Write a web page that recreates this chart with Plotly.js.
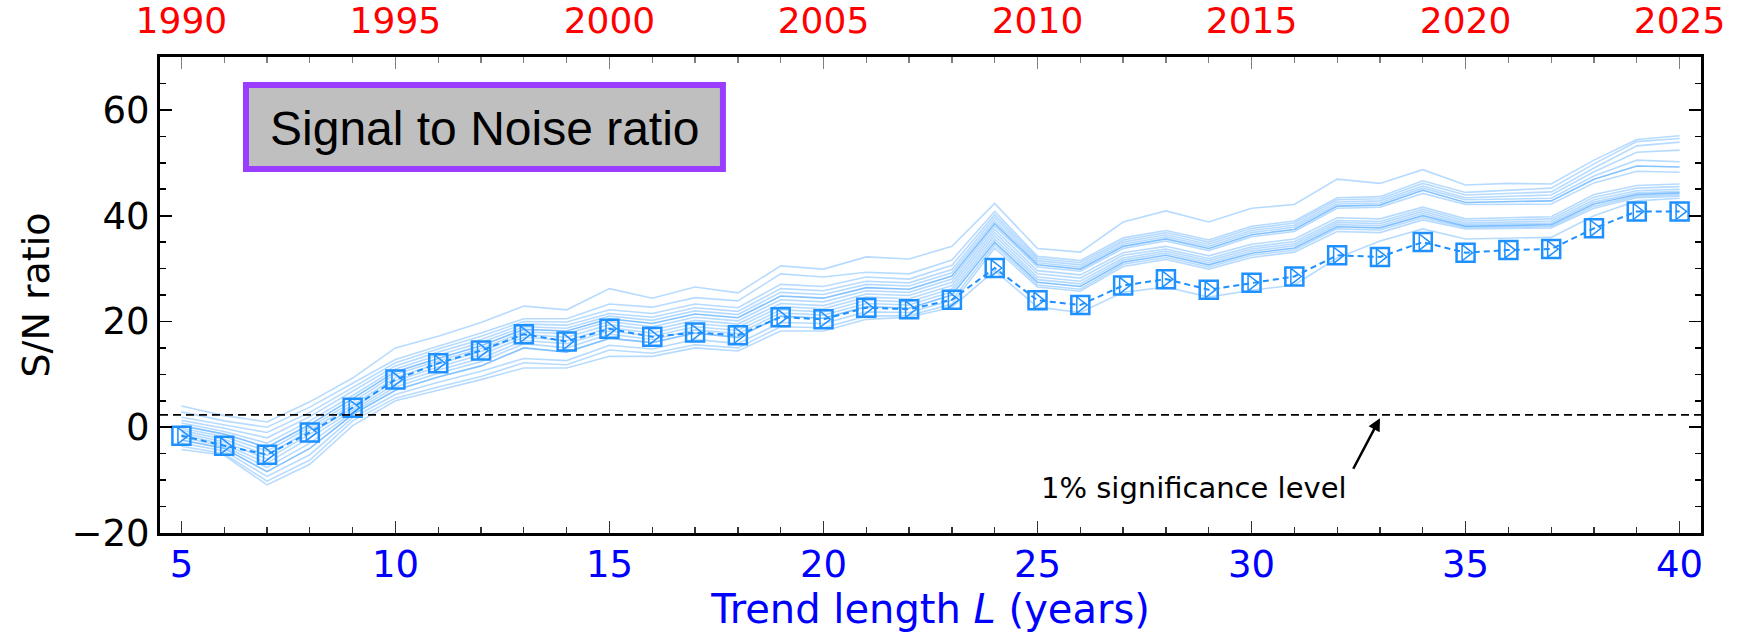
<!DOCTYPE html>
<html>
<head>
<meta charset="utf-8">
<script src="https://cdn.plot.ly/plotly-3.0.1.min.js"></script>
<style>html,body{margin:0;padding:0;background:#fff;}#chart{width:1740px;height:634px;}</style>
</head>
<body>
<div id="chart"></div>
<script>
// Trend lengths (years)
const trendLength = [5,6,7,8,9,10,11,12,13,14,15,16,17,18,19,20,21,22,23,24,25,26,27,28,29,30,31,32,33,34,35,36,37,38,39,40];
// Start years for top axis ticks
const yearTicks = [1990,1995,2000,2005,2010,2015,2020,2025];
const bottomTicks = [5,10,15,20,25,30,35,40];
const sigLevel = 2.33;

// Main S/N series (squares, dashed)
const snMain = [-1.6,-3.5,-5.2,-1.0,3.7,9.0,12.1,14.5,17.6,16.2,18.6,17.1,17.9,17.4,20.8,20.4,22.6,22.3,24.1,30.1,24.0,23.1,26.8,28.0,26.0,27.3,28.5,32.5,32.2,35.0,33.0,33.5,33.7,37.6,40.8,40.8];

// Ensemble members (thin light lines)
const m01 = [4.0,2.2,1.0,4.8,9.3,15.0,17.2,19.8,22.9,22.2,26.2,24.4,26.5,25.4,30.5,29.9,32.2,31.8,34.2,42.3,33.8,33.1,38.8,40.9,38.8,41.4,42.1,46.9,46.1,48.7,45.8,46.1,46.0,50.5,54.4,55.1];
const m02 = [2.9,1.2,0.0,3.8,8.3,12.8,15.3,17.8,20.5,20.5,23.3,22.7,24.5,23.9,29.0,28.4,29.3,29.0,31.6,40.8,32.3,31.5,35.8,37.2,35.4,38.0,39.0,43.4,43.6,46.6,44.4,44.8,45.2,49.8,54.0,54.6];
const m03 = [1.9,0.5,-1.0,2.8,7.5,12.2,14.8,17.2,20.0,19.9,22.2,21.5,23.3,22.6,27.0,26.6,28.4,28.0,30.6,40.2,31.9,31.1,35.4,36.8,35.0,37.6,38.6,43.0,43.2,46.1,43.9,44.2,44.5,49.0,53.2,53.9];
const m04 = [1.3,-0.2,-2.0,2.0,6.8,11.6,14.2,16.6,19.5,19.3,21.5,20.8,22.6,21.9,26.2,25.8,27.6,27.3,29.8,39.6,31.5,30.7,35.0,36.4,34.6,37.2,38.2,42.6,42.8,45.6,43.4,43.7,43.9,48.3,52.0,52.4];
const m05 = [0.8,-0.8,-3.0,1.2,6.0,11.0,13.6,16.0,19.0,18.7,21.0,20.2,22.0,21.3,25.5,25.1,27.0,26.7,29.2,39.0,31.1,30.3,34.6,36.0,34.2,36.8,37.8,42.2,42.4,45.2,43.0,43.2,43.3,47.5,50.5,50.2];
const m06 = [0.3,-1.3,-3.8,0.5,5.4,10.5,13.0,15.4,18.5,18.2,20.5,19.6,21.4,20.7,24.8,24.4,26.4,26.1,28.6,38.5,30.7,29.9,34.2,35.6,33.8,36.4,37.4,41.8,42.0,44.8,42.5,42.7,42.8,46.9,49.4,49.2];
const m07 = [-0.2,-1.8,-4.5,0.0,4.8,10.0,12.5,14.9,18.0,17.7,20.0,19.0,20.8,20.1,24.1,23.7,25.8,25.5,28.0,38.0,30.3,29.5,33.8,35.2,33.4,36.0,37.0,41.4,41.6,44.2,42.1,42.2,42.2,46.2,48.4,48.2];
const m08 = [-0.6,-2.3,-5.3,-0.6,4.2,9.4,12.0,14.3,17.5,17.0,19.4,18.4,20.2,19.5,23.4,23.0,25.2,24.9,27.4,37.4,29.6,28.8,33.0,34.2,32.4,34.6,35.6,39.6,39.4,41.6,39.4,39.6,39.8,44.0,45.7,46.0];
const m09 = [-1.0,-2.8,-6.0,-1.3,3.6,8.8,11.4,13.7,17.0,16.4,18.8,17.8,19.6,18.9,22.8,22.4,24.6,24.3,26.8,36.8,29.0,28.2,32.5,33.7,31.9,34.1,35.1,39.1,38.9,41.2,39.0,39.2,39.4,43.5,45.2,45.5];
const m10 = [-1.4,-3.2,-6.8,-2.0,3.2,8.2,10.8,13.0,16.4,15.8,18.2,17.2,19.0,18.3,22.2,21.8,24.0,23.7,26.2,36.2,28.4,27.6,32.0,33.3,31.5,33.7,34.7,38.7,38.5,40.8,38.6,38.8,39.0,43.0,44.7,45.0];
const m11 = [-1.9,-3.6,-7.6,-3.0,2.8,7.6,10.2,12.4,15.8,15.0,17.6,16.6,18.4,17.7,21.6,21.2,23.4,23.1,25.6,35.6,27.9,27.1,31.6,32.9,31.1,33.3,34.3,38.3,38.1,40.4,38.3,38.5,38.6,42.6,44.3,44.6];
const m12 = [-2.4,-4.0,-8.4,-4.0,2.4,7.0,9.5,11.6,15.0,14.2,16.8,16.0,17.8,17.0,21.0,20.6,22.8,22.5,25.0,35.0,27.4,26.6,31.2,32.5,30.7,32.9,33.9,37.9,37.7,40.0,38.0,38.2,38.3,42.2,44.0,44.3];
const m13 = [-3.0,-4.5,-9.3,-5.2,1.8,6.2,8.5,10.6,13.0,12.6,15.5,14.8,16.6,15.8,19.8,19.6,21.8,21.7,24.0,34.5,26.9,26.1,30.8,32.1,30.3,32.5,33.5,37.5,37.3,39.6,37.8,37.9,38.0,41.8,43.7,44.0];
const m14 = [-3.6,-5.0,-10.2,-6.2,1.2,5.5,7.6,9.6,12.2,11.8,14.6,14.0,15.6,15.0,19.0,18.8,21.0,21.1,23.3,33.9,26.5,25.7,30.4,31.7,29.9,32.1,33.1,37.0,36.8,39.2,37.5,37.6,37.7,41.4,43.4,43.7];
const m15 = [-4.2,-5.3,-10.9,-7.0,0.3,5.0,7.0,9.0,11.2,11.2,13.4,13.4,15.0,14.4,18.2,18.2,20.4,20.8,22.7,29.6,22.7,21.7,25.5,26.5,24.6,25.9,26.9,32.0,35.2,37.5,35.6,35.8,35.9,40.0,42.8,43.3];

const members = [m01,m02,m03,m04,m05,m06,m07,m08,m09,m10,m11,m12,m13,m14,m15];
const darker = [5, 11];

const traces = [];
members.forEach((m, i) => {
  traces.push({
    x: trendLength, y: m, type: 'scatter', mode: 'lines',
    line: {color: darker.includes(i) ? 'rgba(30,144,255,0.55)' : 'rgba(30,144,255,0.32)', width: 1.6},
    hoverinfo: 'skip', showlegend: false
  });
});
traces.push({
  x: trendLength, y: snMain, type: 'scatter', mode: 'lines+markers',
  line: {color: '#1E90FF', width: 2, dash: '6px,4px'},
  marker: {symbol: 'square-open', size: 18, color: '#1E90FF', line: {width: 2.5, color: '#1E90FF'}},
  showlegend: false
});
traces.push({
  x: trendLength, y: snMain, type: 'scatter', mode: 'markers',
  marker: {symbol: 'triangle-right-open', size: 14, color: '#1E90FF', line: {width: 1.5, color: '#1E90FF'}},
  showlegend: false
});
traces.push({
  x: yearTicks, y: yearTicks.map(() => null), xaxis: 'x2', type: 'scatter', mode: 'markers',
  hoverinfo: 'skip', showlegend: false
});

const font = 'DejaVu Sans, sans-serif';
const layout = {
  width: 1740, height: 634,
  margin: {l: 160, r: 39, t: 57, b: 101},
  paper_bgcolor: '#fff', plot_bgcolor: '#fff',
  showlegend: false,
  font: {family: font, color: '#000'},
  xaxis: {
    range: [4.5, 40.5], tickvals: bottomTicks, ticks: 'inside', ticklen: 12, tickwidth: 1.5, tickcolor: '#333',
    minor: {dtick: 1, tick0: 0, ticks: 'inside', ticklen: 6, tickwidth: 1.3, tickcolor: '#333', showgrid: false},
    showline: true, linecolor: '#000', linewidth: 3, mirror: true, showgrid: false, zeroline: false,
    tickfont: {family: font, size: 37, color: '#0000ff'}, ticklabelstandoff: -3,
    title: {text: 'Trend length <i>L</i> (years)', font: {family: font, size: 40, color: '#0000ff'}, standoff: 8}
  },
  xaxis2: {
    overlaying: 'x', side: 'top', range: [1989.5, 2025.5], tickvals: yearTicks,
    ticks: 'inside', ticklen: 12, tickwidth: 1.5, tickcolor: '#808080',
    minor: {dtick: 1, tick0: 0, ticks: 'inside', ticklen: 6, tickwidth: 1.3, tickcolor: '#808080', showgrid: false},
    showline: false, showgrid: false, zeroline: false,
    tickfont: {family: font, size: 36, color: '#ff0000'}, ticklabelstandoff: 16
  },
  yaxis: {
    range: [-20, 70], dtick: 20, tick0: 0, ticks: 'inside', ticklen: 12, tickwidth: 1.8, tickcolor: '#000',
    minor: {dtick: 5, ticks: 'inside', ticklen: 6, tickwidth: 1.5, tickcolor: '#000', showgrid: false},
    showline: true, linecolor: '#000', linewidth: 3, mirror: 'ticks', showgrid: false, zeroline: false,
    tickfont: {family: font, size: 37, color: '#000'}, ticklabelstandoff: 0,
    title: {text: 'S/N ratio', font: {family: font, size: 38, color: '#000'}, standoff: 11}
  },
  shapes: [
    {type: 'line', xref: 'paper', x0: 0, x1: 1, yref: 'y', y0: sigLevel, y1: sigLevel,
     line: {color: '#000', width: 1.8, dash: '8px,5px'}},
    {type: 'rect', xref: 'paper', yref: 'paper', x0: 0.0558, x1: 0.3653, y0: 0.7647, y1: 0.9412,
     fillcolor: '#bfbfbf', line: {color: '#9b3dff', width: 6}}
  ],
  annotations: [
    {xref: 'paper', yref: 'paper', x: 0.2106, y: 0.849, text: 'Signal to Noise ratio', showarrow: false,
     font: {family: 'Liberation Sans, Arial, sans-serif', size: 48, color: '#000'}, xanchor: 'center', yanchor: 'middle'},
    {xref: 'x', yref: 'y', x: 28.65, y: -11.5, text: '1% significance level', showarrow: false,
     font: {family: font, size: 29, color: '#000'}, xanchor: 'center', yanchor: 'middle'},
    {xref: 'x', yref: 'y', x: 33.0, y: 1.7, text: ' ', showarrow: true, ax: -28, ay: 53,
     arrowhead: 2, arrowsize: 1, arrowwidth: 2.5, arrowcolor: '#000', standoff: 0, startstandoff: 0,
     font: {size: 2}}
  ]
};

Plotly.newPlot('chart', traces, layout, {staticPlot: true, displayModeBar: false});
</script>
</body>
</html>
